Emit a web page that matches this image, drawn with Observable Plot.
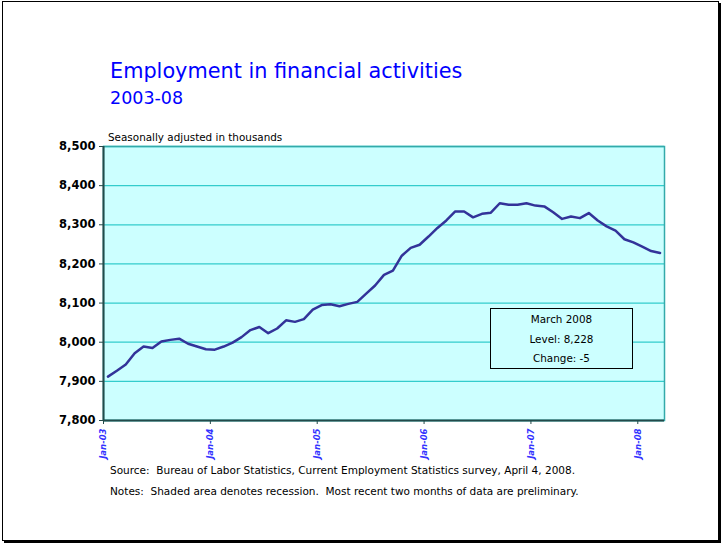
<!DOCTYPE html>
<html>
<head>
<meta charset="utf-8">
<script src="https://cdn.jsdelivr.net/npm/d3@7"></script>
<script src="https://cdn.jsdelivr.net/npm/@observablehq/plot@0.6"></script>
<style>
  html, body { margin: 0; padding: 0; background: #fff; }
  #page { position: relative; width: 722px; height: 546px; overflow: hidden; font-family: "DejaVu Sans", Verdana, sans-serif; }
  #border { position: absolute; left: 2px; top: 1px; width: 715px; height: 538px; border: 1px solid #000; box-shadow: 2px 2px 0 #000; }
  .t { position: absolute; white-space: nowrap; line-height: 1; }
  #title { left: 110px; top: 61px; font-size: 20.8px; color: #0000FF; }
  #subtitle { left: 110px; top: 90px; font-size: 17.5px; color: #0000FF; }
  #units { left: 108px; top: 132px; font-size: 10.4px; color: #000; }
  #source { left: 110px; top: 465px; font-size: 10.5px; color: #000; }
  #notes { left: 110px; top: 486px; font-size: 10.5px; color: #000; }
  #chart { position: absolute; left: 0; top: 140px; }
  #note { position: absolute; left: 490px; top: 308px; width: 143px; height: 61px; border: 1px solid #000; background: #CCFFFF; font-size: 10.4px; text-align: center; box-sizing: border-box; padding-top: 1px; }
  #note div { height: 19.5px; line-height: 19.5px; }
</style>
</head>
<body>
<div id="page">
  <div id="border"></div>
  <div class="t" id="title">Employment in financial activities</div>
  <div class="t" id="subtitle">2003-08</div>
  <div class="t" id="units">Seasonally adjusted in thousands</div>
  <div id="chart"></div>
  <div id="note"><div>March 2008</div><div>Level: 8,228</div><div>Change: -5</div></div>
  <div class="t" id="source">Source:&nbsp; Bureau of Labor Statistics, Current Employment Statistics survey, April 4, 2008.</div>
  <div class="t" id="notes">Notes:&nbsp; Shaded area denotes recession.&nbsp; Most recent two months of data are preliminary.</div>
</div>
<script>
// Monthly employment, Jan 2003 – Mar 2008 (thousands, seasonally adjusted)
const employment = [
  7912, 7927, 7943, 7972, 7989, 7985, 8002, 8006, 8009, 7996, 7989, 7982,   // 2003
  7981, 7989, 7999, 8013, 8031, 8039, 8023, 8035, 8056, 8052, 8059, 8083,   // 2004
  8095, 8097, 8092, 8098, 8103, 8124, 8145, 8172, 8183, 8221, 8241, 8249,   // 2005
  8270, 8292, 8311, 8334, 8334, 8319, 8328, 8331, 8355, 8351, 8351, 8355,   // 2006
  8349, 8347, 8332, 8315, 8321, 8317, 8330, 8311, 8296, 8285, 8263, 8255,   // 2007
  8244, 8233, 8228                                                          // 2008
];
const xTickLabels = ["Jan-03", "Jan-04", "Jan-05", "Jan-06", "Jan-07", "Jan-08"];
const yTicks = [7800, 7900, 8000, 8100, 8200, 8300, 8400, 8500];

const data = employment.map((v, i) => ({i, v}));
const xTicks = xTickLabels.map((_, k) => k * 12 - 0.5);
const labelAt = d => xTickLabels[Math.round((d + 0.5) / 12)];
const fmt = d3.format(",");

const chart = Plot.plot({
  width: 722,
  height: 330,
  marginTop: 6,
  marginLeft: 103,
  marginRight: 58,
  marginBottom: 50,
  style: {fontFamily: '"DejaVu Sans", Verdana, sans-serif', background: "transparent"},
  x: {type: "linear", domain: [-0.5, employment.length - 0.5], axis: null},
  y: {domain: [7800, 8500], axis: null},
  marks: [
    Plot.frame({fill: "#CCFFFF", stroke: null}),
    Plot.gridY(yTicks, {stroke: "#33CCCC", strokeOpacity: 1, strokeWidth: 1.3}),
    Plot.frame({stroke: "#33AAAA", strokeWidth: 1.5}),
    Plot.ruleX([-0.5], {stroke: "#234a4a", strokeWidth: 2}),
    Plot.ruleY([7800], {stroke: "#234a4a", strokeWidth: 2}),
    Plot.line(data, {x: "i", y: "v", stroke: "#333399", strokeWidth: 2.5, strokeLinejoin: "round"}),
    Plot.axisY(yTicks, {label: null, tickSize: 4, tickPadding: 4, tickFormat: fmt, fontSize: 11.5, fontWeight: "bold", fill: "#000", stroke: "#234a4a"}),
    Plot.axisX(xTicks, {label: null, tickSize: 4, tickFormat: () => "", stroke: "#234a4a"}),
    Plot.axisX(xTicks, {label: null, tickSize: 0, tickPadding: 8, tickRotate: -90, tickFormat: labelAt, fill: "#3333FF", fontSize: 8.5, fontWeight: "bold", fontStyle: "italic"})
  ]
});
document.getElementById("chart").appendChild(chart);
</script>
</body>
</html>
